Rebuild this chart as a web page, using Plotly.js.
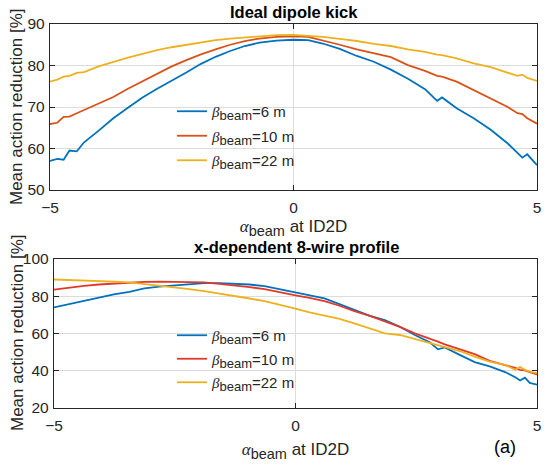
<!DOCTYPE html>
<html>
<head>
<meta charset="utf-8">
<script src="https://cdn.plot.ly/plotly-3.0.1.min.js"></script>
<style>html,body{margin:0;padding:0;background:#fff;}</style>
</head>
<body>
<div id="chart" style="width:550px;height:472px;"></div>
<script>
// ---------- data ----------
const topAlpha = [-5,-4.85,-4.72,-4.6,-4.45,-4.3,-4.0,-3.7,-3.4,-3.1,-2.8,-2.5,-2.2,-1.9,-1.6,-1.3,-1.0,-0.7,-0.35,0,0.3,0.6,0.95,1.3,1.65,2.0,2.35,2.7,2.95,3.05,3.35,3.7,4.05,4.4,4.6,4.7,4.8,5];
const topBeta6  = [57.0,57.5,57.3,59.5,59.3,61.5,64.3,67.3,69.8,72.3,74.4,76.3,78.3,80.4,82.1,83.5,84.7,85.5,86.0,86.2,86.1,85.3,84.0,82.3,80.9,79.0,76.8,74.3,71.5,72.3,69.7,67.3,64.5,61.2,59.0,57.8,58.6,56.0];
const topBeta10 = [65.9,66.2,67.6,67.7,68.5,69.3,70.8,72.4,74.4,76.2,77.9,79.8,81.3,82.7,83.9,85.0,85.9,86.5,86.9,87.0,86.9,86.1,85.0,83.9,83.0,82.0,80.1,78.7,77.5,77.3,76.1,74.0,72.1,70.0,68.5,68.3,67.3,66.0];
const topBeta22 = [76.1,76.6,77.3,77.5,78.2,78.4,79.8,80.9,81.9,82.8,83.7,84.4,85.0,85.6,86.1,86.5,86.8,87.1,87.3,87.4,87.2,86.9,86.4,85.9,85.2,84.7,83.9,83.3,82.6,82.5,81.7,80.5,79.6,78.2,77.5,77.8,77.0,76.3];

const botAlpha = [-5,-4.69,-4.38,-4.07,-3.76,-3.44,-3.13,-2.82,-2.51,-2.2,-1.89,-1.58,-1.27,-0.95,-0.64,-0.33,0,0.29,0.6,0.91,1.22,1.54,1.85,2.16,2.47,2.78,2.95,3.09,3.4,3.71,4.02,4.34,4.55,4.65,4.75,4.85,5];
const botBeta6  = [74.0,75.8,77.5,79.3,81.0,82.4,84.2,85.2,85.9,86.6,87.0,87.0,86.8,86.3,85.4,83.8,82.0,80.5,78.8,75.8,72.6,69.5,67.2,63.6,59.2,55.3,51.5,52.5,48.5,44.6,42.3,39.3,36.5,34.8,36.3,33.5,32.5];
const botBeta10 = [83.6,84.7,85.6,86.3,86.8,87.4,87.7,87.8,87.8,87.7,87.4,86.6,85.9,84.9,83.8,82.4,80.5,79.1,77.4,74.9,72.0,69.5,66.7,63.6,60.1,57.4,55.6,54.2,51.7,48.9,45.3,43.2,41.5,40.5,40.2,39.2,38.0];
const botBeta22 = [89.0,88.8,88.6,88.3,87.9,87.4,86.6,85.8,84.9,83.8,82.7,81.5,80.2,78.8,77.4,75.6,73.3,71.3,69.5,67.8,65.4,62.8,60.1,59.2,57.1,54.8,53.8,52.9,50.6,47.6,44.9,43.2,40.5,42.0,40.5,39.5,38.7];

const seriesNames = ['6 m','10 m','22 m'];
const xTicks = [-5,0,5];
const topYTicks = [50,60,70,80,90];
const botYTicks = [20,40,60,80,100];
const topTitle = 'Ideal dipole kick';
const botTitle = 'x-dependent 8-wire profile';
const yTitle = 'Mean action reduction [%]';

// ---------- style ----------
const topColors = ['#0072BD','#D95319','#EDB120'];
const botColors = ['#0072BD','#E2382A','#EDB120'];
const FONT = 'Liberation Sans, Arial, Helvetica, sans-serif';
const SERIF = 'Liberation Serif';
const axisCol = '#262626';

function legName(n){
  return '<span style="font-family:' + SERIF + '"><i>β</i></span><sub><span style="font-size:13px">beam</span></sub>=' + n;
}
const xTitleText = '<span style="font-family:' + SERIF + '"><i>α</i></span><sub><span style="font-size:14.5px">beam</span></sub> at ID2D';

const traces = [];
[topBeta6, topBeta10, topBeta22].forEach((ys,i)=>{
  traces.push({x: topAlpha, y: ys, xaxis:'x', yaxis:'y', type:'scatter', mode:'lines',
    name: legName(seriesNames[i]), line:{color: topColors[i], width:1.8},
    legend:'legend', legendgroup:'t'+i});
});
[botBeta6, botBeta10, botBeta22].forEach((ys,i)=>{
  traces.push({x: botAlpha, y: ys, xaxis:'x2', yaxis:'y2', type:'scatter', mode:'lines',
    name: legName(seriesNames[i]), line:{color: botColors[i], width:1.8},
    legend:'legend2', legendgroup:'b'+i});
});

function xa(domain, anchor, standoff){
  return {domain: domain, anchor: anchor, range:[-5,5], tickvals: xTicks,
    showline:true, mirror:'ticks', linecolor:axisCol, linewidth:1.2,
    ticks:'inside', ticklen:5, tickcolor:axisCol, tickwidth:1,
    showgrid:true, gridcolor:'#DCDCDC', gridwidth:1, zeroline:false,
    ticklabelstandoff:3,
    tickfont:{family:FONT, size:15.5, color:axisCol},
    title:{text: xTitleText, font:{family:FONT, size:17, color:axisCol}, standoff: standoff}};
}
function ya(domain, anchor, range, ticks){
  return {domain: domain, anchor: anchor, range: range, tickvals: ticks,
    showline:true, mirror:'ticks', linecolor:axisCol, linewidth:1.2,
    ticks:'inside', ticklen:5, tickcolor:axisCol, tickwidth:1,
    showgrid:true, gridcolor:'#DCDCDC', gridwidth:1, zeroline:false,
    ticklabelstandoff:1,
    tickfont:{family:FONT, size:15.5, color:axisCol}};
}

const W = 550, H = 472;
const layout = {
  width: W, height: H,
  margin:{l:0, r:0, t:0, b:0},
  paper_bgcolor:'#fff', plot_bgcolor:'#fff',
  showlegend:true,
  xaxis: xa([50/W, 537/W], 'y', 5),
  yaxis: ya([1-190/H, 1-24/H], 'x', [50,90], topYTicks),
  xaxis2: xa([54/W, 537/W], 'y2', 10),
  yaxis2: ya([1-408/H, 1-259/H], 'x2', [20,100], botYTicks),
  legend:{x:172/W, y:1-95/H, xanchor:'left', yanchor:'top', bgcolor:'rgba(0,0,0,0)',
    borderwidth:0, font:{family:FONT, size:15, color:axisCol}, tracegroupgap:2, traceorder:'grouped'},
  legend2:{x:172/W, y:1-319/H, xanchor:'left', yanchor:'top', bgcolor:'rgba(0,0,0,0)',
    borderwidth:0, font:{family:FONT, size:15, color:axisCol}, tracegroupgap:1, traceorder:'grouped'},
  annotations:[
    {text:'<b>'+topTitle+'</b>', xref:'paper', yref:'paper', x:294/W, y:1-12/H,
      xanchor:'center', yanchor:'middle', showarrow:false, font:{family:FONT, size:16.5, color:'#000'}},
    {text:'<b>'+botTitle+'</b>', xref:'paper', yref:'paper', x:296/W, y:1-247/H,
      xanchor:'center', yanchor:'middle', showarrow:false, font:{family:FONT, size:16.5, color:'#000'}},
    {text:yTitle, xref:'paper', yref:'paper', x:17/W, y:1-107/H, textangle:-90,
      xanchor:'center', yanchor:'middle', showarrow:false, font:{family:FONT, size:17, color:axisCol}},
    {text:yTitle, xref:'paper', yref:'paper', x:17/W, y:1-333/H, textangle:-90,
      xanchor:'center', yanchor:'middle', showarrow:false, font:{family:FONT, size:17, color:axisCol}},
    {text:'(a)', xref:'paper', yref:'paper', x:505/W, y:1-447/H,
      xanchor:'center', yanchor:'middle', showarrow:false, font:{family:FONT, size:18, color:'#000'}}
  ]
};

Plotly.newPlot('chart', traces, layout, {staticPlot:true, displayModeBar:false});
</script>
</body>
</html>
